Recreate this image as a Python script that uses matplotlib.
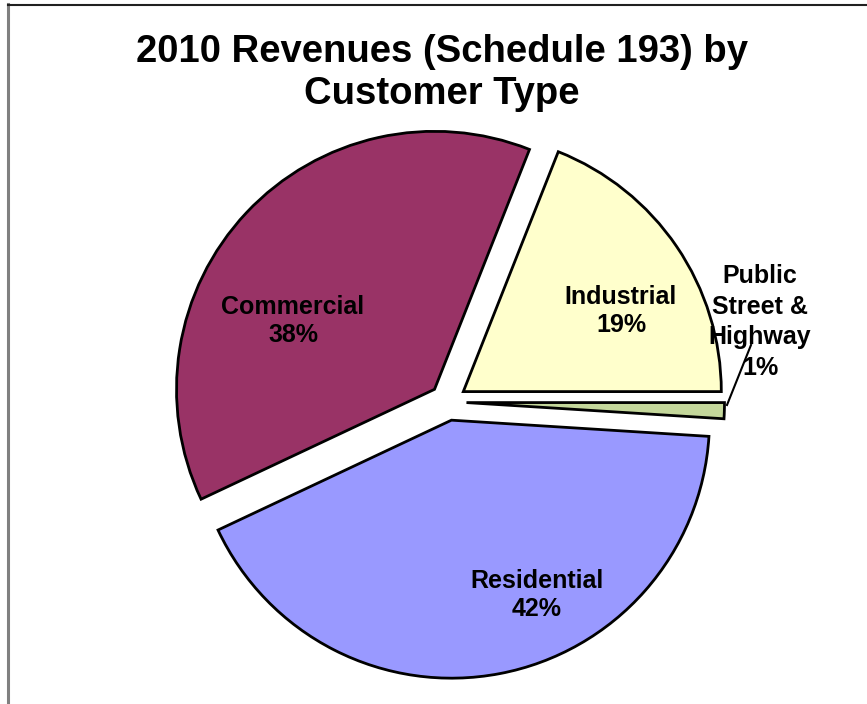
import matplotlib
matplotlib.use("Agg")
import matplotlib.pyplot as plt
from matplotlib.lines import Line2D

plt.rcParams['font.family'] = ['Liberation Sans', 'DejaVu Sans']

categories = ["Industrial", "Public\nStreet &\nHighway", "Residential", "Commercial"]
shares = [19, 1, 42, 38]
colors = ["#FFFFCC", "#C4D79B", "#9999FF", "#993366"]
title = "2010 Revenues (Schedule 193) by\nCustomer Type"

W, H = 867, 704
fig = plt.figure(figsize=(W / 100, H / 100), dpi=100)
ax = fig.add_axes([0, 0, 1, 1])

R = 258
cx, cy = 448, 402
start = 360 * shares[0] / sum(shares)
wedges, _ = ax.pie(shares, colors=colors, startangle=-start, counterclock=True,
                   radius=R, center=(cx, cy), explode=[18.5] * len(shares),
                   wedgeprops=dict(edgecolor='black', linewidth=2),
                   frame=True)
ax.set_xlim(0, W)
ax.set_ylim(H, 0)
ax.set_aspect('equal')
ax.axis('off')

label_pos = [(621, 311), (760, 322), (537, 595), (293, 321)]
spacings = [1.2, 1.36, 1.2, 1.2]
for cat, val, (lx, ly), ls in zip(categories, shares, label_pos, spacings):
    ax.text(lx, ly, f"{cat}\n{val}%", ha='center', va='center', fontsize=18,
            fontweight='bold', linespacing=ls, zorder=5)

# leader line for small slice
ax.add_line(Line2D([751, 727], [345, 405], color='black', lw=1.5, zorder=4))

fig.text(442 / W, 1 - 73 / H, title, ha='center', va='center', fontsize=27.5,
         fontweight='bold', linespacing=1.22)

# chart border
fig.add_artist(Line2D([8 / W, 8 / W], [0, 1 - 4 / H], color='#808080', lw=2.2,
                      transform=fig.transFigure))
fig.add_artist(Line2D([8 / W, 1], [1 - 4.5 / H, 1 - 4.5 / H], color='#202020', lw=1.5,
                      transform=fig.transFigure))

fig.savefig("out.png", dpi=100, facecolor='white')
